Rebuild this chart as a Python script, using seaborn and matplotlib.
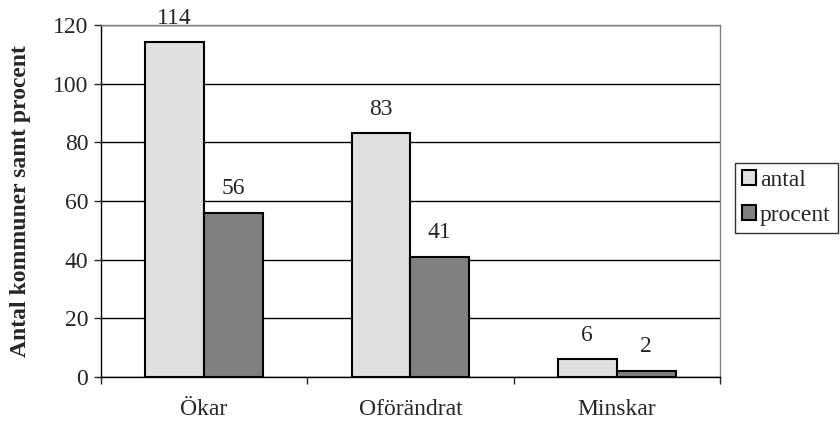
import pandas as pd
import matplotlib.pyplot as plt
import seaborn as sns

# data
kategorier = ["Ökar", "Oförändrat", "Minskar"]
antal = [114, 83, 6]
procent = [56, 41, 2]
yticks = [0, 20, 40, 60, 80, 100, 120]

df = pd.DataFrame({
    "kategori": kategorier * 2,
    "serie": ["antal"] * 3 + ["procent"] * 3,
    "varde": antal + procent,
})

sns.set_style("white")
plt.rcParams["font.family"] = ["Liberation Serif", "DejaVu Serif"]

fig = plt.figure(figsize=(8.4, 4.28), dpi=100)
ax = fig.add_axes([0.120, 0.119, 0.737, 0.823])

sns.barplot(data=df, x="kategori", y="varde", hue="serie", order=kategorier,
            palette=["#e0e0e0", "#808080"], edgecolor="black", linewidth=1.5,
            width=0.57, gap=0, ax=ax, legend=True)

for cont in ax.containers:
    ax.bar_label(cont, fontsize=17, padding=10)

ax.set_ylim(0, 120)
ax.set_yticks(yticks)
ax.set_xlim(-0.5, 2.5)
ax.yaxis.grid(True, color="black", linewidth=1)
ax.set_axisbelow(True)
ax.tick_params(axis="y", labelsize=17, length=5, width=1, direction="out", left=True, pad=4)
ax.set_xticks([-0.5, 0.5, 1.5, 2.5])
ax.set_xticklabels([])
ax.set_xticks([0, 1, 2], labels=kategorier, minor=True)
ax.tick_params(axis="x", which="major", length=5, width=1, direction="out", bottom=True)
ax.tick_params(axis="x", which="minor", length=0, labelsize=17, pad=16)
ax.set_xlabel("")
ax.set_ylabel("Antal kommuner samt procent", fontsize=17, fontweight="bold", labelpad=16)

for s in ["left", "bottom"]:
    ax.spines[s].set_color("black")
    ax.spines[s].set_linewidth(1)
for s in ["top", "right"]:
    ax.spines[s].set_color("#808080")
    ax.spines[s].set_linewidth(1)
    ax.spines[s].set_visible(True)

h, l = ax.get_legend_handles_labels()
ax.get_legend().remove()
leg = fig.legend(h, l, loc="upper left", bbox_to_anchor=(0.875, 0.62),
                 fontsize=17, frameon=True, fancybox=False, edgecolor="black",
                 handlelength=0.6, handleheight=0.6, handletextpad=0.15,
                 borderpad=0.3, labelspacing=0.6, borderaxespad=0)
leg.get_frame().set_linewidth(1)

fig.savefig("out.png", dpi=100)
